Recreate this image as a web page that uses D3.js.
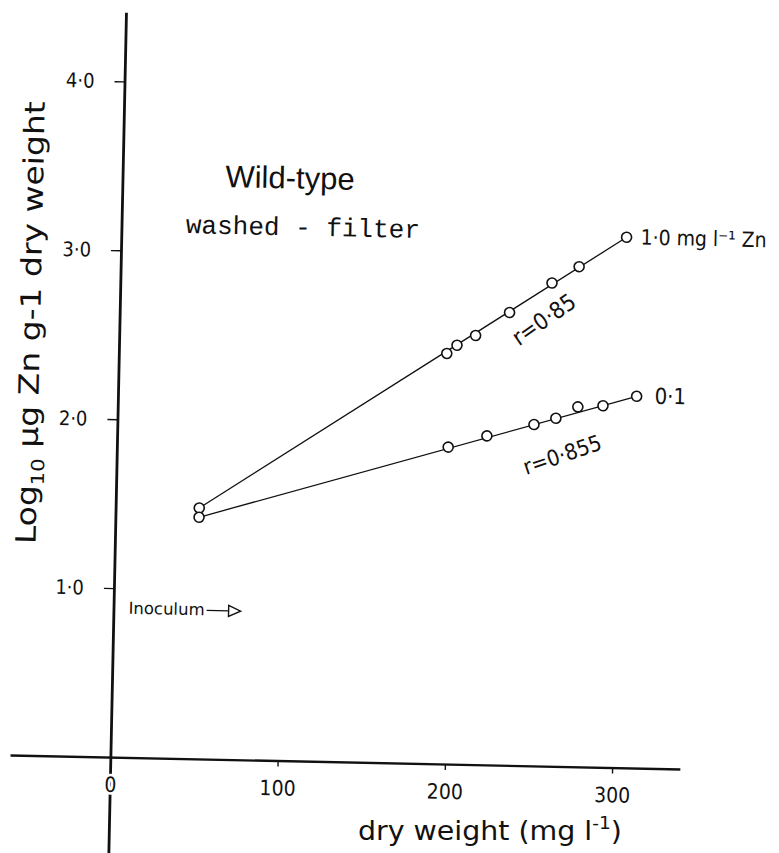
<!DOCTYPE html>
<html>
<head>
<meta charset="utf-8">
<script src="https://cdn.jsdelivr.net/npm/d3@7/dist/d3.min.js"></script>
<style>
  html, body { margin: 0; padding: 0; background: #fff; }
  svg { display: block; }
  text { fill: #111; }
</style>
</head>
<body>
<svg id="chart" width="779" height="853"></svg>
<script>
// ---- data ----
const xTickValues = [0, 100, 200, 300];
const xTickLabels = ["0", "100", "200", "300"];
const yTickValues = [1, 2, 3, 4];
const yTickLabels = ["1·0", "2·0", "3·0", "4·0"];

const highZnX = [50, 196, 202, 213, 233, 258, 274, 302];
const highZnY = [1.485, 2.43, 2.48, 2.54, 2.68, 2.86, 2.96, 3.14];
const lowZnX  = [50, 198, 221, 249, 262, 275, 290, 310];
const lowZnY  = [1.43, 1.876, 1.947, 2.02, 2.06, 2.13, 2.14, 2.20];

const seriesLabels = ["1·0 mg l⁻¹ Zn", "0·1"];
const rLabels = ["r=0·85", "r=0·855"];

// ---- layout ----
const svg = d3.select("#chart");
svg.append("rect").attr("width", 779).attr("height", 853).attr("fill", "#fff");

const x = d3.scaleLinear().domain([-60, 340.5]).range([10, 680]);
const y = d3.scaleLinear().domain([-0.6, 4.41]).range([858.4, 12]);

const sans = "'DejaVu Sans Condensed','Liberation Sans Narrow','Liberation Sans',sans-serif";
const wide = "'DejaVu Sans','Liberation Sans',sans-serif";

// fit a text element to a target length by horizontal scaling
function fitLength(sel, base, target) {
  const len = sel.node().getComputedTextLength();
  sel.attr("transform", `${base} scale(${target / len},1)`);
}

// the scanned figure is slightly rotated
const g = svg.append("g")
  .attr("transform", `rotate(1.2, ${x(0)}, ${y(0)})`);

// x axis
const xAxis = d3.axisBottom(x)
  .tickValues(xTickValues)
  .tickFormat((d, i) => xTickLabels[i])
  .tickSize(6).tickSizeOuter(0).tickPadding(14);
const gx = g.append("g").attr("transform", `translate(0,${y(0)})`).call(xAxis);
gx.select(".domain").attr("stroke", "#111").attr("stroke-width", 2.4);
gx.selectAll(".tick line").attr("stroke", "#111").attr("stroke-width", 1.4)
  .filter(d => d === 0).remove();
gx.selectAll(".tick text").attr("font-family", sans).attr("font-size", 21).attr("fill", "#111")
  .attr("stroke", "#fff").attr("stroke-width", 5).attr("paint-order", "stroke");

// y axis
const yAxis = d3.axisLeft(y)
  .tickValues(yTickValues)
  .tickFormat((d, i) => yTickLabels[i])
  .tickSize(10).tickSizeOuter(0).tickPadding(20);
const gy = g.append("g").attr("transform", `translate(${x(0)},0)`).call(yAxis);
gy.select(".domain").attr("stroke", "#111").attr("stroke-width", 2.8);
gy.selectAll(".tick line").attr("stroke", "#111").attr("stroke-width", 1.4);
gy.selectAll(".tick text").attr("font-family", sans).attr("font-size", 20).attr("fill", "#111");
gx.raise();

// data lines & points
const series = [
  { xs: highZnX, ys: highZnY },
  { xs: lowZnX, ys: lowZnY }
];
series.forEach(s => {
  const pts = s.xs.map((v, i) => [v, s.ys[i]]);
  const first = pts[0], last = pts[pts.length - 1];
  g.append("line")
    .attr("x1", x(first[0])).attr("y1", y(first[1]))
    .attr("x2", x(last[0])).attr("y2", y(last[1]))
    .attr("stroke", "#111").attr("stroke-width", 1.3);
  g.selectAll(null).data(pts).enter().append("circle")
    .attr("cx", d => x(d[0])).attr("cy", d => y(d[1]))
    .attr("r", 5).attr("fill", "#fff").attr("stroke", "#111").attr("stroke-width", 1.6);
});

// series labels
const hiLast = [highZnX[highZnX.length - 1], highZnY[highZnY.length - 1]];
const loLast = [lowZnX[lowZnX.length - 1], lowZnY[lowZnY.length - 1]];
g.append("text").attr("x", x(hiLast[0]) + 14).attr("y", y(hiLast[1]) + 7)
  .attr("font-family", sans).attr("font-size", 21).text(seriesLabels[0]);
g.append("text").attr("x", x(loLast[0]) + 18).attr("y", y(loLast[1]) + 7)
  .attr("font-family", sans).attr("font-size", 22).text(seriesLabels[1]);

// r labels
g.append("text").attr("transform", `translate(${x(239)},${y(2.48)}) rotate(-36)`)
  .attr("font-family", sans).attr("font-size", 23).text(rLabels[0]);
g.append("text").attr("transform", `translate(${x(245)},${y(1.72)}) rotate(-20)`)
  .attr("font-family", sans).attr("font-size", 22).text(rLabels[1]);

// titles
g.append("text").attr("x", x(61.5)).attr("y", y(3.387))
  .attr("font-family", "'Liberation Sans',Arial,sans-serif").attr("font-size", 31).text("Wild-type");
g.append("text").attr("x", x(38.5)).attr("y", y(3.11))
  .attr("font-family", "'Liberation Mono','Courier New',monospace").attr("font-size", 26).text("washed - filter");

// inoculum annotation
const ino = g.append("g").attr("transform", `translate(${x(9)},${y(0.85)})`);
const inoText = ino.append("text").attr("font-family", wide).attr("font-size", 16.5).text("Inoculum");
const inoEnd = inoText.node().getComputedTextLength() + 2;
ino.append("line").attr("x1", inoEnd).attr("x2", inoEnd + 22).attr("y1", -5).attr("y2", -5)
  .attr("stroke", "#111").attr("stroke-width", 1.4);
ino.append("path").attr("d", `M${inoEnd + 22},-10.5 L${inoEnd + 34},-5 L${inoEnd + 22},0.5 Z`)
  .attr("fill", "#fff").attr("stroke", "#111").attr("stroke-width", 1.4);

// y axis title
const ytBase = `translate(31,${y(1.25)}) rotate(-90)`;
const yt = g.append("text").attr("transform", ytBase)
  .attr("font-family", wide).attr("font-size", 28);
yt.append("tspan").text("Log");
yt.append("tspan").attr("font-size", 18).attr("dy", 7).text("10");
yt.append("tspan").attr("dy", -7).text(" µg Zn g-1 dry weight");
fitLength(yt, ytBase, 443);

// x axis title (kept level so it stays inside the frame)
const xtBase = `translate(${x(148)},${y(-0.49)})`;
const xt = svg.append("text").attr("transform", xtBase)
  .attr("font-family", wide).attr("font-size", 26);
xt.append("tspan").text("dry weight  (mg l");
xt.append("tspan").attr("font-size", 17).attr("dy", -11).text("-1");
xt.append("tspan").attr("dy", 11).text(")");
fitLength(xt, xtBase, 264);
</script>
</body>
</html>
